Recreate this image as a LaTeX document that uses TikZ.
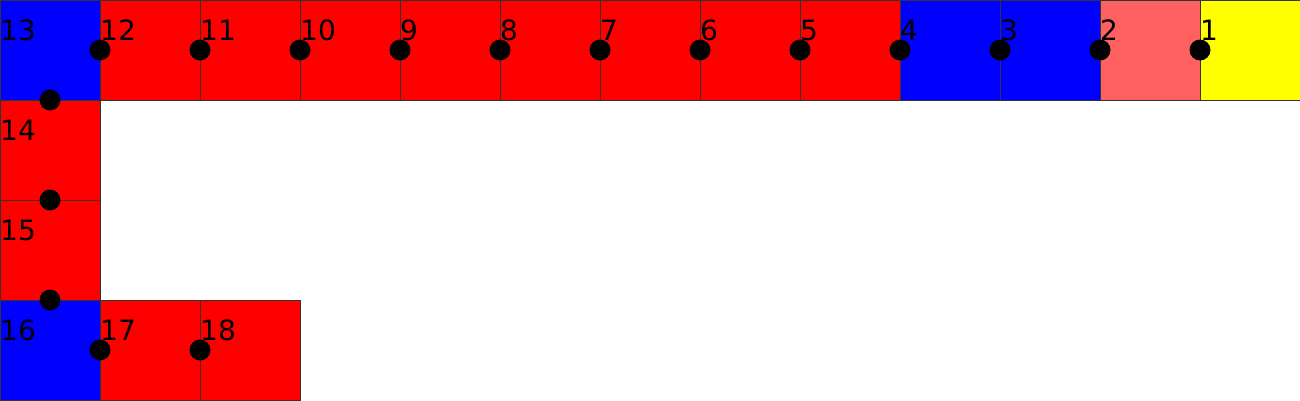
\documentclass[tikz,border=0pt]{standalone}
\usepackage{fontspec}
\setmainfont{DejaVu Sans}
\definecolor{cblue}{RGB}{0,0,255}
\definecolor{cred}{RGB}{255,0,0}
\definecolor{clight}{RGB}{255,96,96}
\definecolor{cyel}{RGB}{255,255,0}
\begin{document}
\begin{tikzpicture}[x=1pt,y=-1pt,
  sq/.style={draw=black!80,line width=1pt,minimum size=100pt,inner sep=0pt,outer sep=0pt,anchor=north west},
  num/.style={inner sep=0pt,anchor=base west,font=\fontsize{28}{28}\selectfont},
  dot/.style={circle,fill=black,minimum size=21pt,inner sep=0pt}]
\useasboundingbox (0,0) rectangle (1300,400);
% top row
\node[sq,fill=cblue]  (s13) at (0,0) {};
\node[sq,fill=cred]   (s12) at (100,0) {};
\node[sq,fill=cred]   (s11) at (200,0) {};
\node[sq,fill=cred]   (s10) at (300,0) {};
\node[sq,fill=cred]   (s9) at (400,0) {};
\node[sq,fill=cred]   (s8) at (500,0) {};
\node[sq,fill=cred]   (s7) at (600,0) {};
\node[sq,fill=cred]   (s6) at (700,0) {};
\node[sq,fill=cred]   (s5) at (800,0) {};
\node[sq,fill=cblue]  (s4) at (900,0) {};
\node[sq,fill=cblue]  (s3) at (1000,0) {};
\node[sq,fill=clight] (s2) at (1100,0) {};
\node[sq,fill=cyel]   (s1) at (1200,0) {};
% column and bottom
\node[sq,fill=cred]   (s14) at (0,100) {};
\node[sq,fill=cred]   (s15) at (0,200) {};
\node[sq,fill=cblue]  (s16) at (0,300) {};
\node[sq,fill=cred]   (s17) at (100,300) {};
\node[sq,fill=cred]   (s18) at (200,300) {};
% labels
\foreach \n in {1,...,18}{
  \node[num] (l\n) at ([yshift=-40pt]s\n.north west) {\n};
}
% dots
\foreach \n in {1,...,12,17,18}{
  \node[dot] (d\n) at (s\n.west) {};
}
\foreach \n in {14,15,16}{
  \node[dot] (d\n) at (s\n.north) {};
}
\end{tikzpicture}
\end{document}
